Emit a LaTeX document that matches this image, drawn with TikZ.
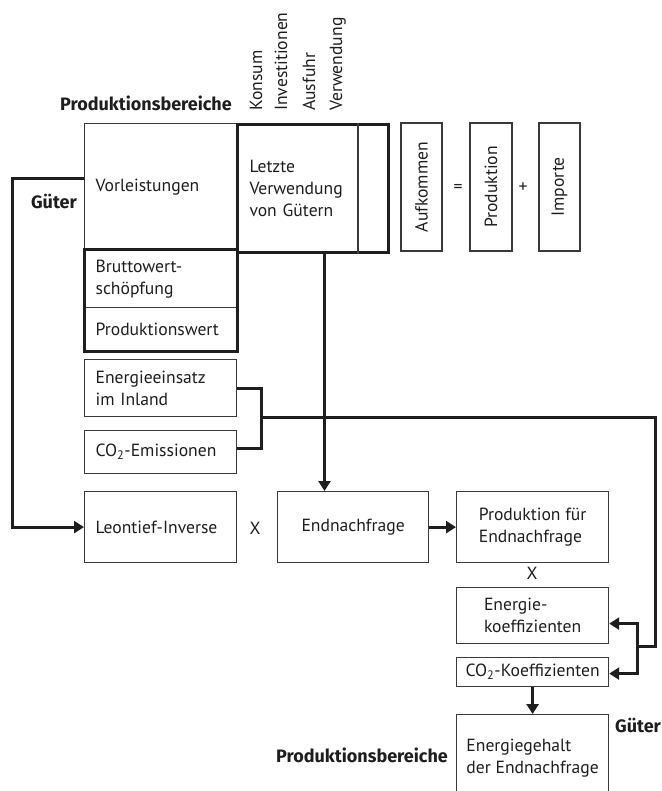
\documentclass[tikz,border=0pt]{standalone}
\usepackage{fontspec}
\setmainfont{PT Sans}
\newfontfamily\labfont{Fira Sans}
\usetikzlibrary{arrows.meta,calc}
\definecolor{lc}{HTML}{3A3A3A}
\definecolor{tc}{HTML}{1E1E1E}
\begin{document}
\begin{tikzpicture}[x=1pt,y=-1pt,
  font=\fontsize{17.6}{22}\selectfont, text=tc,
  box/.style={draw=lc, line width=1.2pt, inner sep=0pt, anchor=north west},
  lbox/.style={box, align=left, inner xsep=11pt},
  cbox/.style={box, align=left},
  frm/.style={draw=tc, line width=3pt},
  conn/.style={draw=tc, line width=3pt},
  arr/.style={conn, -{Triangle[length=10pt,width=12pt]}},
  lab/.style={font=\labfont\fontsize{18}{22}\selectfont\bfseries, inner sep=0pt},
  vlab/.style={rotate=90, anchor=base west, inner sep=0pt},
  sym/.style={inner sep=0pt}
]
\useasboundingbox (0,0) rectangle (661,791);

% top table
\node[lbox, text width=130pt, minimum height=127pt] (vl) at (84,123) {Vorleistungen};
\node[lbox, inner xsep=12pt, text width=127pt, minimum height=128pt, draw=tc, line width=3pt] (lv) at (236,123) {Letzte\\Verwendung\\von Gütern};
\draw[draw=lc, line width=1.2pt] ([xshift=122pt]lv.north west) -- ([xshift=122pt]lv.south west);
\node[lbox, text width=130pt, minimum height=57pt] (bw) at (84,250) {Bruttowert-\\schöpfung};
\node[lbox, text width=130pt, minimum height=43pt] (pw) at (84,307) {Produktionswert};
\draw[frm] (bw.north west) rectangle (pw.south east);

% right equation
\node[box, anchor=center, rotate=90, minimum width=128pt, minimum height=41pt] (au) at (421.5,187) {Aufkommen};
\node[sym] (eq) at (458,188) {=};
\node[box, anchor=center, rotate=90, minimum width=128pt, minimum height=42pt] (pr) at (491,187) {Produktion};
\node[sym] (pl) at (523,188) {+};
\node[box, anchor=center, rotate=90, minimum width=128pt, minimum height=41pt] (im) at (559.5,187) {Importe};

% labels
\node[lab, anchor=base east] (pb1) at (232,111) {Produktionsbereiche};
\node[lab, anchor=base east] (gu1) at (77,209) {Güter};
\node[vlab] (ks) at (262,111) {Konsum};
\node[vlab] (iv) at (287,111) {Investitionen};
\node[vlab] (af) at (315,111) {Ausfuhr};
\node[vlab] (vw) at (342,111) {Verwendung};

% energy
\node[lbox, text width=130pt, minimum height=57pt] (ee) at (84,359) {Energieeinsatz\\im Inland};
\node[lbox, text width=130pt, minimum height=43pt] (co) at (84,430) {CO\textsubscript{2}-Emissionen};

% calculation row
\node[lbox, text width=130pt, minimum height=71pt] (li) at (84,491) {Leontief-Inverse};
\node[sym] (x1) at (255,528) {X};
\node[cbox, minimum width=151pt, minimum height=71pt] (en) at (277,491) {Endnachfrage};
\node[cbox, minimum width=152pt, minimum height=71pt] (pe) at (456,491) {Produktion für\\Endnachfrage};
\node[sym] (x2) at (532,573) {X};
\node[cbox, minimum width=152pt, minimum height=56pt] (ek) at (456,587) {Energie-\\koeffizienten};
\node[cbox, minimum width=152pt, minimum height=29pt] (ck) at (456,657) {CO\textsubscript{2}-Koeffizienten};
\node[cbox, minimum width=152pt, minimum height=88pt] (eg) at (456,714) {Energiegehalt\\der Endnachfrage};
\node[lab, anchor=base west] (gu2) at (615,732) {Güter};
\node[lab, anchor=base east] (pb2) at (448,762) {Produktionsbereiche};

% connectors
\coordinate (jn) at (261,417);
\coordinate (br) at (637,646);
\draw[arr] ([yshift=9pt]vl.west) -- ++(-72,0) |- (li.west);
\draw[arr] ([xshift=11.5pt]lv.south) -- ([xshift=11.5pt]lv.south |- en.north);
\draw[conn] (ee.east) -| (jn) |- ([yshift=4pt]co.east);
\draw[conn] (jn) -| ([xshift=18pt]br) -- (br);
\draw[arr] (br) |- ([yshift=-8pt]ek.east);
\draw[arr] (br) |- ([yshift=-1.5pt]ck.east);
\draw[arr] (en.east) -- (pe.west);
\draw[arr] (ck.south) -- (eg.north);
\end{tikzpicture}
\end{document}
